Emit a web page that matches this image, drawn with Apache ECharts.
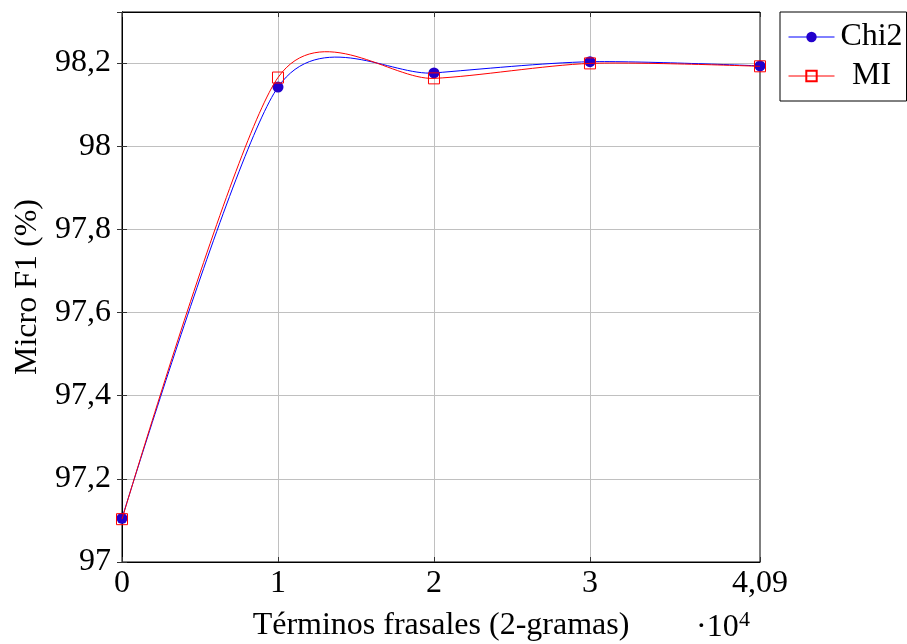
<!DOCTYPE html>
<html>
<head>
<meta charset="utf-8">
<script src="https://cdn.jsdelivr.net/npm/echarts@6/dist/echarts.min.js"></script>
<style>
  html, body { margin: 0; padding: 0; background: #fff; }
  #chart { width: 907px; height: 644px; }
</style>
</head>
<body>
<div id="chart"></div>
<script>
// Términos frasales (x 10^4) vs Micro F1
const xValues = [0, 1, 2, 3, 4.09];
const chi2Values = [97.105, 98.142, 98.176, 98.203, 98.193];
const miValues = [97.103, 98.165, 98.163, 98.199, 98.192];
const xTickValues = [0, 1, 2, 3, 4.09];
const xTickLabels = ["0", "1", "2", "3", "4,09"];
const xGridValues = [1, 2, 3];
const yMin = 97;
const yMax = 98.3226;

const FONT = "'Liberation Serif', 'DejaVu Serif', serif";
const FS = 32;
// roughly pgfplots "smooth"
const TENSION = 0.135;

const toPairs = (ys) => xValues.map((x, i) => [x, ys[i]]);

const fmtY = (v) => {
  const r = Math.round(v * 10) / 10;
  return Number.isInteger(r) ? String(r) : r.toFixed(1).replace(".", ",");
};

const fmtX = (v) => {
  const i = xTickValues.findIndex((t) => Math.abs(t - v) < 1e-6);
  return i >= 0 ? xTickLabels[i] : "";
};

// smooth curve through the data points, in pixel space
function smoothLine(values, color, z) {
  return {
    type: "custom",
    coordinateSystem: "cartesian2d",
    silent: true,
    z: z,
    encode: { x: 0, y: 1 },
    data: [[xValues[0], values[0]]],
    renderItem: (params, api) => {
      const pts = xValues.map((x, i) => api.coord([x, values[i]]));
      const n = pts.length;
      let d = `M${pts[0][0]},${pts[0][1]}`;
      for (let i = 0; i < n - 1; i++) {
        const a = pts[Math.max(i - 1, 0)];
        const p = pts[i];
        const q = pts[i + 1];
        const b = pts[Math.min(i + 2, n - 1)];
        const c1 = i === 0 ? p : [p[0] + TENSION * (q[0] - a[0]), p[1] + TENSION * (q[1] - a[1])];
        const c2 = i === n - 2 ? q : [q[0] - TENSION * (b[0] - p[0]), q[1] - TENSION * (b[1] - p[1])];
        d += ` C${c1[0]},${c1[1]} ${c2[0]},${c2[1]} ${q[0]},${q[1]}`;
      }
      return {
        type: "path",
        shape: { pathData: d },
        style: { stroke: color, fill: "none", lineWidth: 1 },
      };
    },
  };
}

const tickStyle = { show: true, inside: true, length: 5, lineStyle: { color: "#333", width: 1 } };

const chart = echarts.init(document.getElementById("chart"));

const option = {
  animation: false,
  backgroundColor: "#fff",
  textStyle: { fontFamily: FONT },
  grid: {
    left: 122,
    top: 12,
    width: 638,
    height: 550,
    outerBoundsMode: "none",
    show: true,
    borderColor: "#000",
    borderWidth: 1,
    backgroundColor: "transparent",
  },
  legend: {
    orient: "vertical",
    left: 780,
    top: 12,
    itemWidth: 46,
    itemHeight: 13,
    itemGap: 7,
    itemTextGap: 4,
    padding: [9, 3, 9, 8],
    borderColor: "#000",
    borderWidth: 1,
    borderRadius: 0,
    backgroundColor: "#fff",
    formatter: (name) => `{t|${name}}`,
    textStyle: {
      fontFamily: FONT,
      fontSize: FS,
      color: "#000",
      rich: {
        t: { fontFamily: FONT, fontSize: FS, lineHeight: 30, color: "#000", width: 64, align: "center" },
      },
    },
    data: [
      { name: "Chi2", lineStyle: { color: "#0000ff", width: 1, opacity: 1 } },
      { name: "MI", lineStyle: { color: "#ff0000", width: 1, opacity: 1 } },
    ],
  },
  xAxis: [
    {
      type: "value",
      min: 0,
      max: 4.09,
      interval: 1,
      axisLine: { show: true, lineStyle: { color: "#000" } },
      axisTick: { ...tickStyle, customValues: xTickValues },
      axisLabel: {
        customValues: xTickValues,
        formatter: fmtX,
        color: "#000",
        fontSize: FS,
        margin: 6,
        fontFamily: FONT,
      },
      splitLine: { show: false },
      name: "Términos frasales (2-gramas)",
      nameLocation: "middle",
      nameGap: 48,
      nameTextStyle: { fontSize: FS, color: "#000", fontFamily: FONT },
    },
    {
      type: "value",
      position: "top",
      min: 0,
      max: 4.09,
      interval: 1,
      axisLine: { show: true, lineStyle: { color: "#000" } },
      axisTick: { ...tickStyle, customValues: xTickValues },
      axisLabel: { show: false },
      splitLine: { show: false },
    },
  ],
  yAxis: [
    {
      type: "value",
      min: yMin,
      max: yMax,
      interval: 0.2,
      axisLine: { show: true, lineStyle: { color: "#000" } },
      axisTick: tickStyle,
      axisLabel: {
        formatter: fmtY,
        showMaxLabel: false,
        color: "#000",
        fontSize: FS,
        margin: 11,
        fontFamily: FONT,
      },
      splitLine: { show: true, showMaxLine: false, lineStyle: { color: "#c0c0c0", width: 1 } },
      name: "Micro F1 (%)",
      nameLocation: "middle",
      nameGap: 78,
      nameTextStyle: { fontSize: FS, color: "#000", fontFamily: FONT },
    },
    {
      type: "value",
      position: "right",
      min: yMin,
      max: yMax,
      interval: 0.2,
      axisLine: { show: true, lineStyle: { color: "#000" } },
      axisTick: tickStyle,
      axisLabel: { show: false },
      splitLine: { show: false },
    },
  ],
  graphic: [
    {
      type: "text",
      left: 696,
      top: 612,
      style: { text: "·10", fontSize: FS, fontFamily: FONT, fill: "#000" },
    },
    {
      type: "text",
      left: 739,
      top: 609,
      style: { text: "4", fontSize: 22, fontFamily: FONT, fill: "#000" },
    },
  ],
  series: [
    smoothLine(chi2Values, "#0000ff", 2),
    {
      name: "Chi2",
      type: "line",
      data: toPairs(chi2Values),
      symbol: "circle",
      symbolSize: 11,
      showAllSymbol: true,
      lineStyle: { color: "#0000ff", width: 1, opacity: 0 },
      itemStyle: { color: "#2200cc", borderColor: "#2200cc", borderWidth: 0 },
      markLine: {
        silent: true,
        symbol: "none",
        label: { show: false },
        lineStyle: { color: "#c0c0c0", width: 1, type: "solid", opacity: 1 },
        data: xGridValues.map((v) => ({ xAxis: v })),
        z: 0,
      },
      z: 3,
    },
    smoothLine(miValues, "#ff0000", 4),
    {
      name: "MI",
      type: "line",
      data: toPairs(miValues),
      symbol: "rect",
      symbolSize: 11,
      showAllSymbol: true,
      lineStyle: { color: "#ff0000", width: 1, opacity: 0 },
      itemStyle: { color: "transparent", borderColor: "#ff0000", borderWidth: 1 },
      z: 5,
    },
  ],
};

chart.setOption(option);
</script>
</body>
</html>
